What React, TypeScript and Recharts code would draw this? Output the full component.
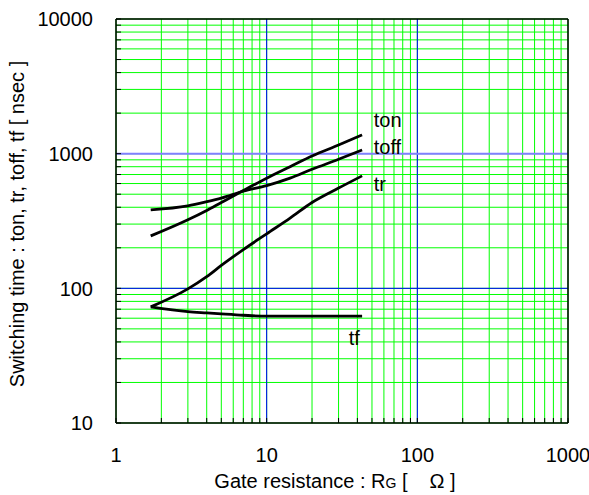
import React from 'react';
import { LineChart, Line, XAxis, YAxis, CartesianGrid, ReferenceLine } from 'recharts';

// Gate resistance RG [Ω]
const rg = [1.7, 3, 4, 5, 7, 10, 14.3, 20, 30, 43];
// Switching times [nsec]
const ton = [245, 323, 379, 434, 532, 658, 800, 961, 1159, 1377];
const toff = [383, 410, 440, 468, 526, 579, 658, 766, 908, 1065];
const tr = [72.8, 99, 122, 148, 194, 254, 332, 434, 555, 684];
const tf = [72.8, 67.2, 65.7, 64.6, 63.1, 62.1, 62.1, 62.1, 62.1, 62.1];

const xMajor = [1, 10, 100, 1000];
const yMajor = [10, 100, 1000, 10000];
const xTicks = [1, 2, 3, 4, 5, 6, 7, 8, 9, 10, 20, 30, 40, 50, 60, 70, 80, 90, 100, 200, 300, 400, 500, 600, 700, 800, 900, 1000];
const yTicks = [10, 20, 30, 40, 50, 60, 70, 80, 90, 100, 200, 300, 400, 500, 600, 700, 800, 900, 1000, 2000, 3000, 4000, 5000, 6000, 7000, 8000, 9000, 10000];

const data = rg.map((r, i) => ({ rg: r, ton: ton[i], toff: toff[i], tr: tr[i], tf: tf[i] }));

const FONT = '"Liberation Sans", Arial, sans-serif';
const FS = 20;

const XTick = (props: any) => {
  const { x, y, payload } = props;
  const v = payload.value;
  return (
    <g>
      <line x1={x} x2={x} y1={y} y2={y - 5} stroke="#000" strokeWidth={1} />
      {xMajor.includes(v) && (
        <text x={x} y={y + 39} textAnchor="middle" fontFamily={FONT} fontSize={FS} fill="#000">
          {v}
        </text>
      )}
    </g>
  );
};

const YTick = (props: any) => {
  const { x, y, payload } = props;
  const v = payload.value;
  return (
    <g>
      <line x1={x} x2={x + 5} y1={y} y2={y} stroke="#000" strokeWidth={1} />
      {yMajor.includes(v) && (
        <text x={x - 23} y={y + 7.2} textAnchor="end" fontFamily={FONT} fontSize={FS} fill="#000">
          {v}
        </text>
      )}
    </g>
  );
};

const XLabel = (props: any) => {
  const vb = props.viewBox;
  const cx = vb.x + vb.width / 2 - 7;
  return (
    <text x={cx} y={vb.y + 65} textAnchor="middle" fontFamily={FONT} fontSize={FS} fill="#000">
      Gate resistance : R<tspan fontSize={14}>G</tspan>
      <tspan> [</tspan>
      <tspan dx={22}>Ω</tspan>
      <tspan> ]</tspan>
    </text>
  );
};

const YLabel = (props: any) => {
  const vb = props.viewBox;
  const cx = 24.3;
  const cy = vb.y + vb.height / 2 + 3;
  return (
    <text
      x={cx}
      y={cy}
      transform={`rotate(-90, ${cx}, ${cy})`}
      textAnchor="middle"
      fontFamily={FONT}
      fontSize={FS}
      fill="#000"
    >
      Switching time : ton, tr, toff, tf [ nsec ]
    </text>
  );
};

const endLabel = (text: string, dx: number, dy: number) => (props: any) => {
  const { cx, cy, index } = props;
  if (index !== rg.length - 1) return <g key={`d-${text}-${index}`} />;
  return (
    <text key={`d-${text}-${index}`} x={cx + dx} y={cy + dy} fontFamily={FONT} fontSize={FS} fill="#000">
      {text}
    </text>
  );
};

export default function App() {
  return (
    <div style={{ position: 'absolute', left: 0, top: 0, width: 589, height: 495, background: '#fff' }}>
      <LineChart width={589} height={495} data={data} margin={{ top: 19, right: 21, left: 0, bottom: 0 }}>
        <CartesianGrid stroke="#00ff00" strokeWidth={1} />
        <XAxis
          dataKey="rg"
          type="number"
          scale="log"
          domain={[1, 1000]}
          ticks={xTicks}
          interval={0}
          allowDataOverflow
          height={72}
          tickSize={0}
          tickMargin={0}
          tickLine={false}
          axisLine={{ stroke: '#000', strokeWidth: 1.5 }}
          tick={XTick}
          label={XLabel}
        />
        <YAxis
          type="number"
          scale="log"
          domain={[10, 10000]}
          ticks={yTicks}
          interval={0}
          allowDataOverflow
          width={116}
          tickSize={0}
          tickMargin={0}
          tickLine={false}
          axisLine={{ stroke: '#000', strokeWidth: 1.5 }}
          tick={YTick}
          label={YLabel}
        />
        <ReferenceLine x={10} stroke="#0000ff" strokeWidth={1} />
        <ReferenceLine x={100} stroke="#0000ff" strokeWidth={1} />
        <ReferenceLine y={100} stroke="#0000ff" strokeWidth={1} />
        <ReferenceLine y={1000} stroke="#8080ff" strokeWidth={2} />
        <ReferenceLine x={1000} stroke="#000" strokeWidth={1.5} />
        <ReferenceLine y={10000} stroke="#000" strokeWidth={1.5} />
        <Line dataKey="ton" type="monotone" stroke="#000" strokeWidth={2.8} isAnimationActive={false} dot={endLabel('ton', 11.6, -8.3)} activeDot={false} />
        <Line dataKey="toff" type="monotone" stroke="#000" strokeWidth={2.8} isAnimationActive={false} dot={endLabel('toff', 11.6, 4)} activeDot={false} />
        <Line dataKey="tr" type="monotone" stroke="#000" strokeWidth={2.8} isAnimationActive={false} dot={endLabel('tr', 11.6, 15)} activeDot={false} />
        <Line dataKey="tf" type="monotone" stroke="#000" strokeWidth={2.8} isAnimationActive={false} dot={endLabel('tf', -13.4, 29.3)} activeDot={false} />
      </LineChart>
    </div>
  );
}
